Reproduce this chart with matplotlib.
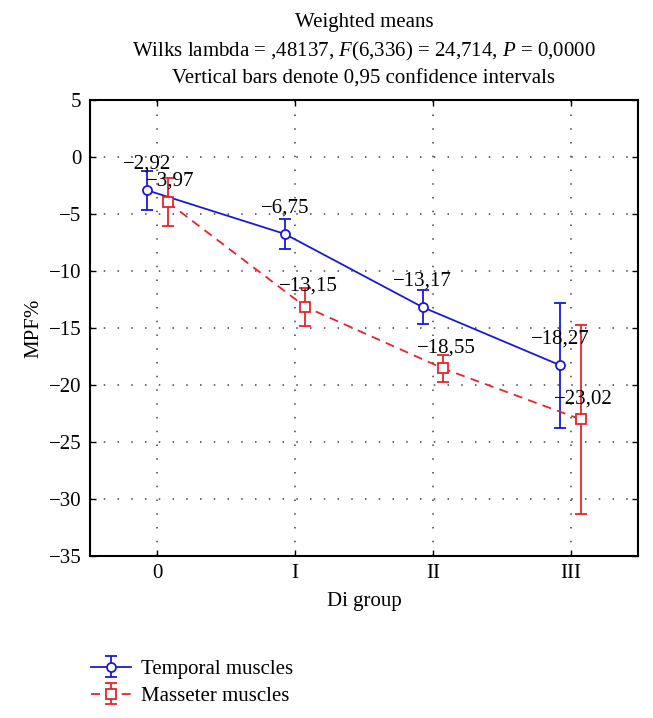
import numpy as np
import matplotlib
matplotlib.use('Agg')
import matplotlib.pyplot as plt

plt.rcParams['font.family'] = ['Liberation Serif', 'DejaVu Serif']
plt.rcParams['mathtext.fontset'] = 'custom'
plt.rcParams['mathtext.rm'] = 'Liberation Serif'
plt.rcParams['mathtext.it'] = 'Liberation Serif:italic'

groups = ['0', 'I', 'II', 'III']
temporal_mean = [-2.92, -6.75, -13.17, -18.27]
temporal_ci = [1.7, 1.3, 1.5, 5.5]
masseter_mean = [-3.97, -13.15, -18.55, -23.02]
masseter_ci = [2.1, 1.7, 1.15, 8.3]
y_ticks = [5, 0, -5, -10, -15, -20, -25, -30, -35]

blue = '#1a1ad6'
red = '#e8232b'
fs = 15


def fmt(v):
    return ('%.2f' % v).replace('.', ',').replace('-', '\u2212')


fig = plt.figure(figsize=(6.53, 7.18), dpi=100)
ax = fig.add_axes([90 / 653, 1 - 556 / 718, 548 / 653, 456 / 718])

x = np.arange(len(groups))
dx = 0.075

h1 = ax.errorbar(x - dx, temporal_mean, yerr=temporal_ci, color=blue, lw=1.3,
                 marker='o', ms=6.5, mfc='white', mec=blue, mew=1.3,
                 capsize=4.5, capthick=1.3, elinewidth=1.3, label='Temporal muscles', zorder=3)
h2 = ax.errorbar(x + dx, masseter_mean, yerr=masseter_ci, color=red, lw=1.3, ls='--',
                 dashes=(5, 3.5), marker='s', ms=6.5, mfc='white', mec=red, mew=1.3,
                 capsize=4.5, capthick=1.3, elinewidth=1.3, label='Masseter muscles', zorder=3)
h2[2][0].set_linestyle('-')

# value labels over the means
for xi, v in zip(x - dx, temporal_mean):
    ax.annotate(fmt(v), (xi, v), xytext=(0, 19), textcoords='offset points',
                ha='center', va='center', fontsize=fs, zorder=5)
for xi, v in zip(x + dx, masseter_mean):
    ax.annotate(fmt(v), (xi, v), xytext=(2, 15), textcoords='offset points',
                ha='center', va='center', fontsize=fs, zorder=5)

ax.set_xlim(-0.49, 3.49)
ax.set_ylim(-35, 5)
ax.set_xticks(x)
ax.set_xticklabels(groups)
ax.set_yticks(y_ticks)
ax.set_yticklabels([str(t).replace('-', '\u2212') for t in y_ticks])
ax.tick_params(direction='in', length=4, width=1, labelsize=fs, top=True, right=True, pad=6)
ax.grid(True, ls=(0, (1, 8)), color='#444444', lw=1.1)
for s in ax.spines.values():
    s.set_linewidth(1.5)

ax.set_xlabel('Di group', fontsize=fs, labelpad=6)
ax.set_ylabel('MPF%', fontsize=fs, labelpad=4)

cx = (90 + 638) / 2 / 653
fig.text(cx, 1 - 22 / 718, 'Weighted means', ha='center', va='center', fontsize=fs)
fig.text(cx, 1 - 51 / 718, 'Wilks lambda = ,48137, $F$(6,336) = 24,714, $P$ = 0,0000',
         ha='center', va='center', fontsize=fs)
fig.text(cx, 1 - 79 / 718, 'Vertical bars denote 0,95 confidence intervals',
         ha='center', va='center', fontsize=fs)

fig.legend(handles=[h1, h2], loc='upper left', bbox_to_anchor=(81 / 653, 1 - 649 / 718),
           frameon=False, fontsize=fs, handlelength=1.9, handletextpad=0.5,
           labelspacing=0.35, borderpad=0)

fig.savefig('out.png', dpi=100)
